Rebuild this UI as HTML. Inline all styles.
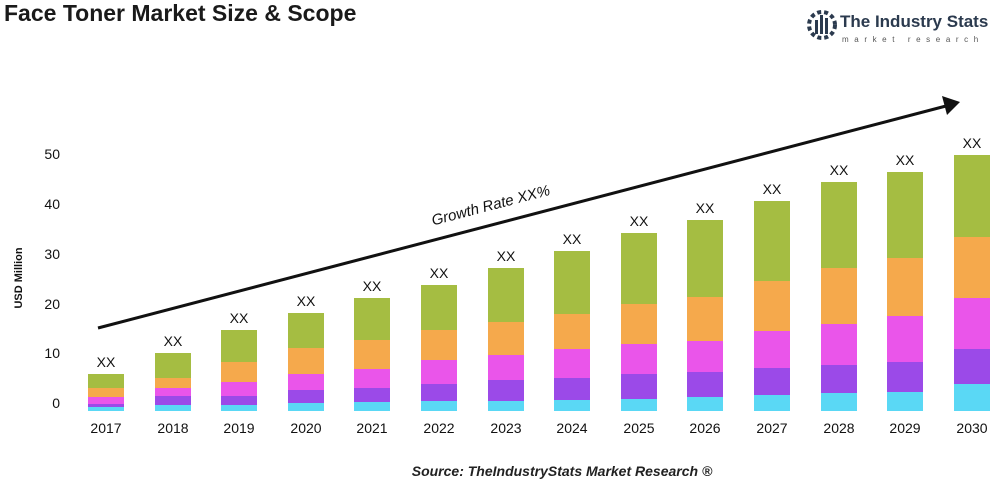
<!DOCTYPE html><html><head><style>body{margin:0;background:#fff}svg{display:block}</style></head><body>
<svg width="1000" height="500" xmlns="http://www.w3.org/2000/svg" font-family="Liberation Sans, sans-serif">
<text x="4" y="21" font-size="23" font-weight="bold" fill="#1a1a1a">Face Toner Market Size &amp; Scope</text>
<g fill="#2b3a4e">
<circle cx="822" cy="25" r="13" fill="none" stroke="#2b3a4e" stroke-width="4" stroke-dasharray="4 3"/>
<rect x="815" y="20" width="3" height="14"/><rect x="820" y="15" width="3" height="19"/><rect x="825" y="18" width="3" height="16"/>
<text x="840" y="27" font-size="17" font-weight="bold">The Industry Stats</text>
<text x="842" y="42" font-size="8" letter-spacing="5.6" fill="#555">market research</text>
</g>
<g font-size="14" fill="#111" text-anchor="end">
<text x="60" y="159">50</text><text x="60" y="209">40</text><text x="60" y="259">30</text><text x="60" y="309">20</text><text x="60" y="358">10</text><text x="60" y="408">0</text>
</g>
<text transform="translate(22,278) rotate(-90)" font-size="11" font-weight="bold" text-anchor="middle" fill="#111">USD Million</text>
<g>
<g transform="translate(88,0)"><rect y="374" width="36" height="14" fill="#a5bd42"/><rect y="388" width="36" height="9" fill="#f5a94c"/><rect y="397" width="36" height="7" fill="#ea55ea"/><rect y="404" width="36" height="3" fill="#9b4ae8"/><rect y="407" width="36" height="4" fill="#5ad8f5"/></g>
<g transform="translate(155,0)"><rect y="353" width="36" height="25" fill="#a5bd42"/><rect y="378" width="36" height="10" fill="#f5a94c"/><rect y="388" width="36" height="8" fill="#ea55ea"/><rect y="396" width="36" height="9" fill="#9b4ae8"/><rect y="405" width="36" height="6" fill="#5ad8f5"/></g>
<g transform="translate(221,0)"><rect y="330" width="36" height="32" fill="#a5bd42"/><rect y="362" width="36" height="20" fill="#f5a94c"/><rect y="382" width="36" height="14" fill="#ea55ea"/><rect y="396" width="36" height="9" fill="#9b4ae8"/><rect y="405" width="36" height="6" fill="#5ad8f5"/></g>
<g transform="translate(288,0)"><rect y="313" width="36" height="35" fill="#a5bd42"/><rect y="348" width="36" height="26" fill="#f5a94c"/><rect y="374" width="36" height="16" fill="#ea55ea"/><rect y="390" width="36" height="13" fill="#9b4ae8"/><rect y="403" width="36" height="8" fill="#5ad8f5"/></g>
<g transform="translate(354,0)"><rect y="298" width="36" height="42" fill="#a5bd42"/><rect y="340" width="36" height="29" fill="#f5a94c"/><rect y="369" width="36" height="19" fill="#ea55ea"/><rect y="388" width="36" height="14" fill="#9b4ae8"/><rect y="402" width="36" height="9" fill="#5ad8f5"/></g>
<g transform="translate(421,0)"><rect y="285" width="36" height="45" fill="#a5bd42"/><rect y="330" width="36" height="30" fill="#f5a94c"/><rect y="360" width="36" height="24" fill="#ea55ea"/><rect y="384" width="36" height="17" fill="#9b4ae8"/><rect y="401" width="36" height="10" fill="#5ad8f5"/></g>
<g transform="translate(488,0)"><rect y="268" width="36" height="54" fill="#a5bd42"/><rect y="322" width="36" height="33" fill="#f5a94c"/><rect y="355" width="36" height="25" fill="#ea55ea"/><rect y="380" width="36" height="21" fill="#9b4ae8"/><rect y="401" width="36" height="10" fill="#5ad8f5"/></g>
<g transform="translate(554,0)"><rect y="251" width="36" height="63" fill="#a5bd42"/><rect y="314" width="36" height="35" fill="#f5a94c"/><rect y="349" width="36" height="29" fill="#ea55ea"/><rect y="378" width="36" height="22" fill="#9b4ae8"/><rect y="400" width="36" height="11" fill="#5ad8f5"/></g>
<g transform="translate(621,0)"><rect y="233" width="36" height="71" fill="#a5bd42"/><rect y="304" width="36" height="40" fill="#f5a94c"/><rect y="344" width="36" height="30" fill="#ea55ea"/><rect y="374" width="36" height="25" fill="#9b4ae8"/><rect y="399" width="36" height="12" fill="#5ad8f5"/></g>
<g transform="translate(687,0)"><rect y="220" width="36" height="77" fill="#a5bd42"/><rect y="297" width="36" height="44" fill="#f5a94c"/><rect y="341" width="36" height="31" fill="#ea55ea"/><rect y="372" width="36" height="25" fill="#9b4ae8"/><rect y="397" width="36" height="14" fill="#5ad8f5"/></g>
<g transform="translate(754,0)"><rect y="201" width="36" height="80" fill="#a5bd42"/><rect y="281" width="36" height="50" fill="#f5a94c"/><rect y="331" width="36" height="37" fill="#ea55ea"/><rect y="368" width="36" height="27" fill="#9b4ae8"/><rect y="395" width="36" height="16" fill="#5ad8f5"/></g>
<g transform="translate(821,0)"><rect y="182" width="36" height="86" fill="#a5bd42"/><rect y="268" width="36" height="56" fill="#f5a94c"/><rect y="324" width="36" height="41" fill="#ea55ea"/><rect y="365" width="36" height="28" fill="#9b4ae8"/><rect y="393" width="36" height="18" fill="#5ad8f5"/></g>
<g transform="translate(887,0)"><rect y="172" width="36" height="86" fill="#a5bd42"/><rect y="258" width="36" height="58" fill="#f5a94c"/><rect y="316" width="36" height="46" fill="#ea55ea"/><rect y="362" width="36" height="30" fill="#9b4ae8"/><rect y="392" width="36" height="19" fill="#5ad8f5"/></g>
<g transform="translate(954,0)"><rect y="155" width="36" height="82" fill="#a5bd42"/><rect y="237" width="36" height="61" fill="#f5a94c"/><rect y="298" width="36" height="51" fill="#ea55ea"/><rect y="349" width="36" height="35" fill="#9b4ae8"/><rect y="384" width="36" height="27" fill="#5ad8f5"/></g>
</g>
<g font-size="14" text-anchor="middle" fill="#111">
<text x="106" y="367">XX</text><text x="173" y="346">XX</text><text x="239" y="323">XX</text><text x="306" y="306">XX</text><text x="372" y="291">XX</text><text x="439" y="278">XX</text><text x="506" y="261">XX</text><text x="572" y="244">XX</text><text x="639" y="226">XX</text><text x="705" y="213">XX</text><text x="772" y="194">XX</text><text x="839" y="175">XX</text><text x="905" y="165">XX</text><text x="972" y="148">XX</text>
<text x="106" y="433">2017</text><text x="173" y="433">2018</text><text x="239" y="433">2019</text><text x="306" y="433">2020</text><text x="372" y="433">2021</text><text x="439" y="433">2022</text><text x="506" y="433">2023</text><text x="572" y="433">2024</text><text x="639" y="433">2025</text><text x="705" y="433">2026</text><text x="772" y="433">2027</text><text x="839" y="433">2028</text><text x="905" y="433">2029</text><text x="972" y="433">2030</text>
</g>
<line x1="98" y1="328" x2="946" y2="106" stroke="#111" stroke-width="3"/>
<polygon points="960,102 942,96 947,115" fill="#111"/>
<text transform="translate(492,210) rotate(-14.7)" font-size="15" font-style="italic" text-anchor="middle" fill="#111">Growth Rate XX%</text>
<text x="562" y="476" font-size="14" font-style="italic" font-weight="bold" text-anchor="middle" fill="#222">Source: TheIndustryStats Market Research ®</text>
</svg></body></html>
